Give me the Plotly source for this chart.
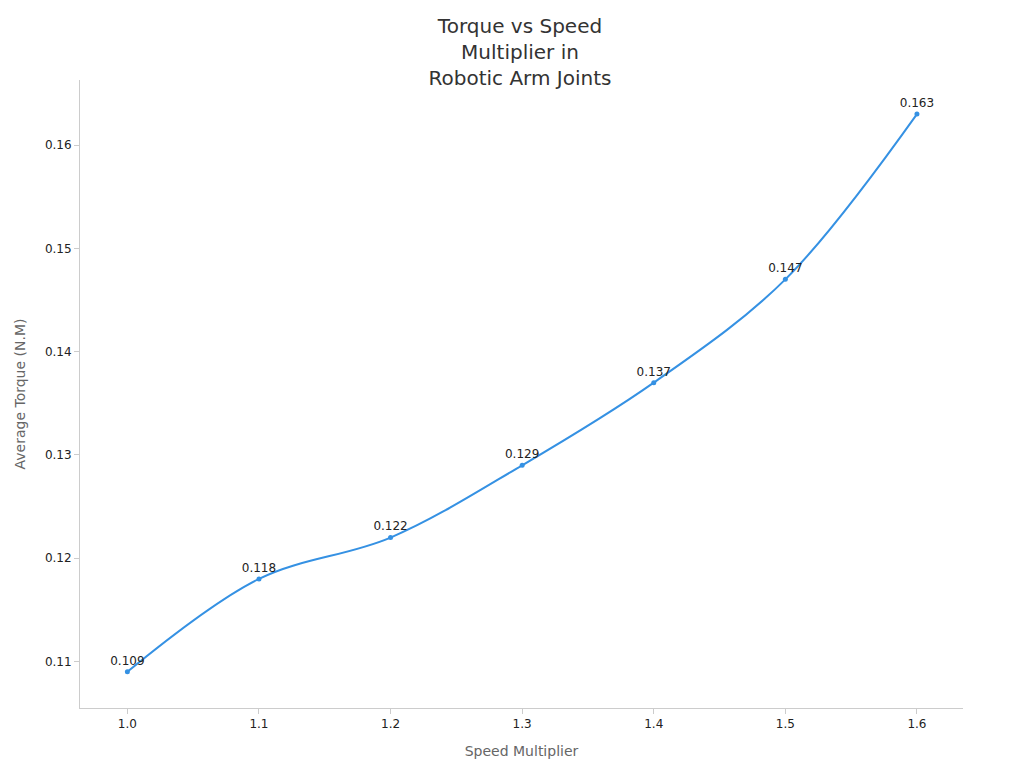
import plotly.graph_objects as go

speed = [1.0, 1.1, 1.2, 1.3, 1.4, 1.5, 1.6]
torque = [0.109, 0.118, 0.122, 0.129, 0.137, 0.147, 0.163]
labels = ["0.109", "0.118", "0.122", "0.129", "0.137", "0.147", "0.163"]

fig = go.Figure(go.Scatter(
    x=speed, y=torque, mode="lines+markers+text",
    line=dict(color="#3591e3", width=2, shape="spline"),
    marker=dict(size=5, color="#3591e3"),
    text=labels, textposition="top center",
    textfont=dict(size=12, color="#222"),
))

axis = dict(showline=True, linecolor="#ccc", ticks="outside", tickcolor="#ccc",
            showgrid=False, zeroline=False, tickfont=dict(size=12, color="#222"))
title_font = dict(size=14, color="#666")

fig.update_layout(
    width=1024, height=768, plot_bgcolor="white", paper_bgcolor="white",
    font=dict(family="DejaVu Sans"),
    title=dict(text="Torque vs Speed<br>Multiplier in<br>Robotic Arm Joints",
               x=0.5, xanchor="center", y=0.968, yanchor="top",
               font=dict(size=20, color="#333")),
    margin=dict(l=64, r=69, t=72, b=68),
    showlegend=False,
    xaxis=dict(axis, title=dict(text="Speed Multiplier", font=title_font),
               range=[0.964, 1.635],
               tickvals=speed, ticktext=[f"{v:.1f}" for v in speed]),
    yaxis=dict(axis, title=dict(text="Average Torque (N.M)", font=title_font),
               range=[0.1055, 0.1663], dtick=0.01),
)

fig.write_html("out.html")
